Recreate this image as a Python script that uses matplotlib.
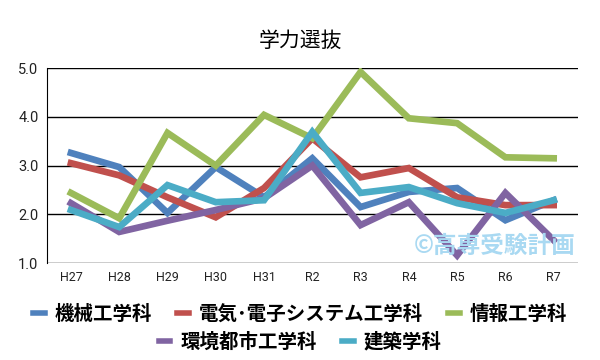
import matplotlib.pyplot as plt
from matplotlib.lines import Line2D

plt.rcParams['font.family'] = ['Roboto', 'Noto Sans CJK JP', 'DejaVu Sans']

years = ['H27', 'H28', 'H29', 'H30', 'H31', 'R2', 'R3', 'R4', 'R5', 'R6', 'R7']
kikai = [3.26, 2.97, 2.03, 2.97, 2.35, 3.15, 2.15, 2.46, 2.54, 1.88, 2.29]
denki = [3.05, 2.80, 2.35, 1.94, 2.54, 3.56, 2.76, 2.95, 2.35, 2.19, 2.19]
joho = [2.44, 1.92, 3.67, 3.00, 4.04, 3.56, 4.92, 3.97, 3.87, 3.17, 3.15]
kankyo = [2.23, 1.64, 1.87, 2.09, 2.33, 3.00, 1.78, 2.25, 1.16, 2.44, 1.47]
kenchiku = [2.09, 1.74, 2.60, 2.25, 2.29, 3.69, 2.44, 2.56, 2.23, 2.03, 2.29]

names = ['機械工学科', '電気･電子システム工学科', '情報工学科', '環境都市工学科', '建築学科']
series = [kikai, denki, joho, kankyo, kenchiku]
colors = ['#4F81BD', '#C0504D', '#9BBB59', '#8064A2', '#4BACC6']

fig = plt.figure(figsize=(6, 3.6), dpi=100)
ax = fig.add_axes([0.078, 0.269, 0.885, 0.542])

x = list(range(len(years)))
for vals, c in zip(series, colors):
    ax.plot(x, vals, color=c, linewidth=4.8, solid_joinstyle='miter')

ax.set_xlim(-0.5, len(years) - 0.5)
ax.set_ylim(1.0, 5.0)
ax.set_yticks([1.0, 2.0, 3.0, 4.0, 5.0])
ax.set_yticklabels(['1.0', '2.0', '3.0', '4.0', '5.0'], fontsize=10.5, color='#222222')
ax.set_xticks(x)
ax.set_xticklabels(years, fontsize=9, color='#222222')
ax.tick_params(length=0, pad=6)
ax.grid(axis='y', color='black', linewidth=1)
ax.set_axisbelow(True)
for s in ['top', 'right', 'bottom']:
    ax.spines[s].set_visible(False)
ax.spines['left'].set_color('black')

fig.text(0.5, 0.885, '学力選抜', ha='center', va='center', fontsize=15,
         family=['Noto Sans CJK JP'])

ax.text(0.995, 0.09, '©高専受験計画', transform=ax.transAxes, ha='right', va='center',
        fontsize=17, fontweight='bold', color='#A9D9F2', family=['Noto Sans CJK JP'])

handles = [Line2D([], [], color=c, linewidth=4) for c in colors]
leg_font = {'family': ['Noto Sans CJK JP'], 'weight': 'bold', 'size': 14}
leg1 = fig.legend(handles[:3], names[:3], loc='center', bbox_to_anchor=(0.5, 0.128),
                  ncol=3, frameon=False, prop=leg_font, handlelength=0.6,
                  columnspacing=1.3, handletextpad=0.5)
fig.legend(handles[3:], names[3:], loc='center', bbox_to_anchor=(0.5, 0.05),
           ncol=2, frameon=False, prop=leg_font, handlelength=0.6,
           columnspacing=1.3, handletextpad=0.5)

fig.savefig('out.png', dpi=100)
